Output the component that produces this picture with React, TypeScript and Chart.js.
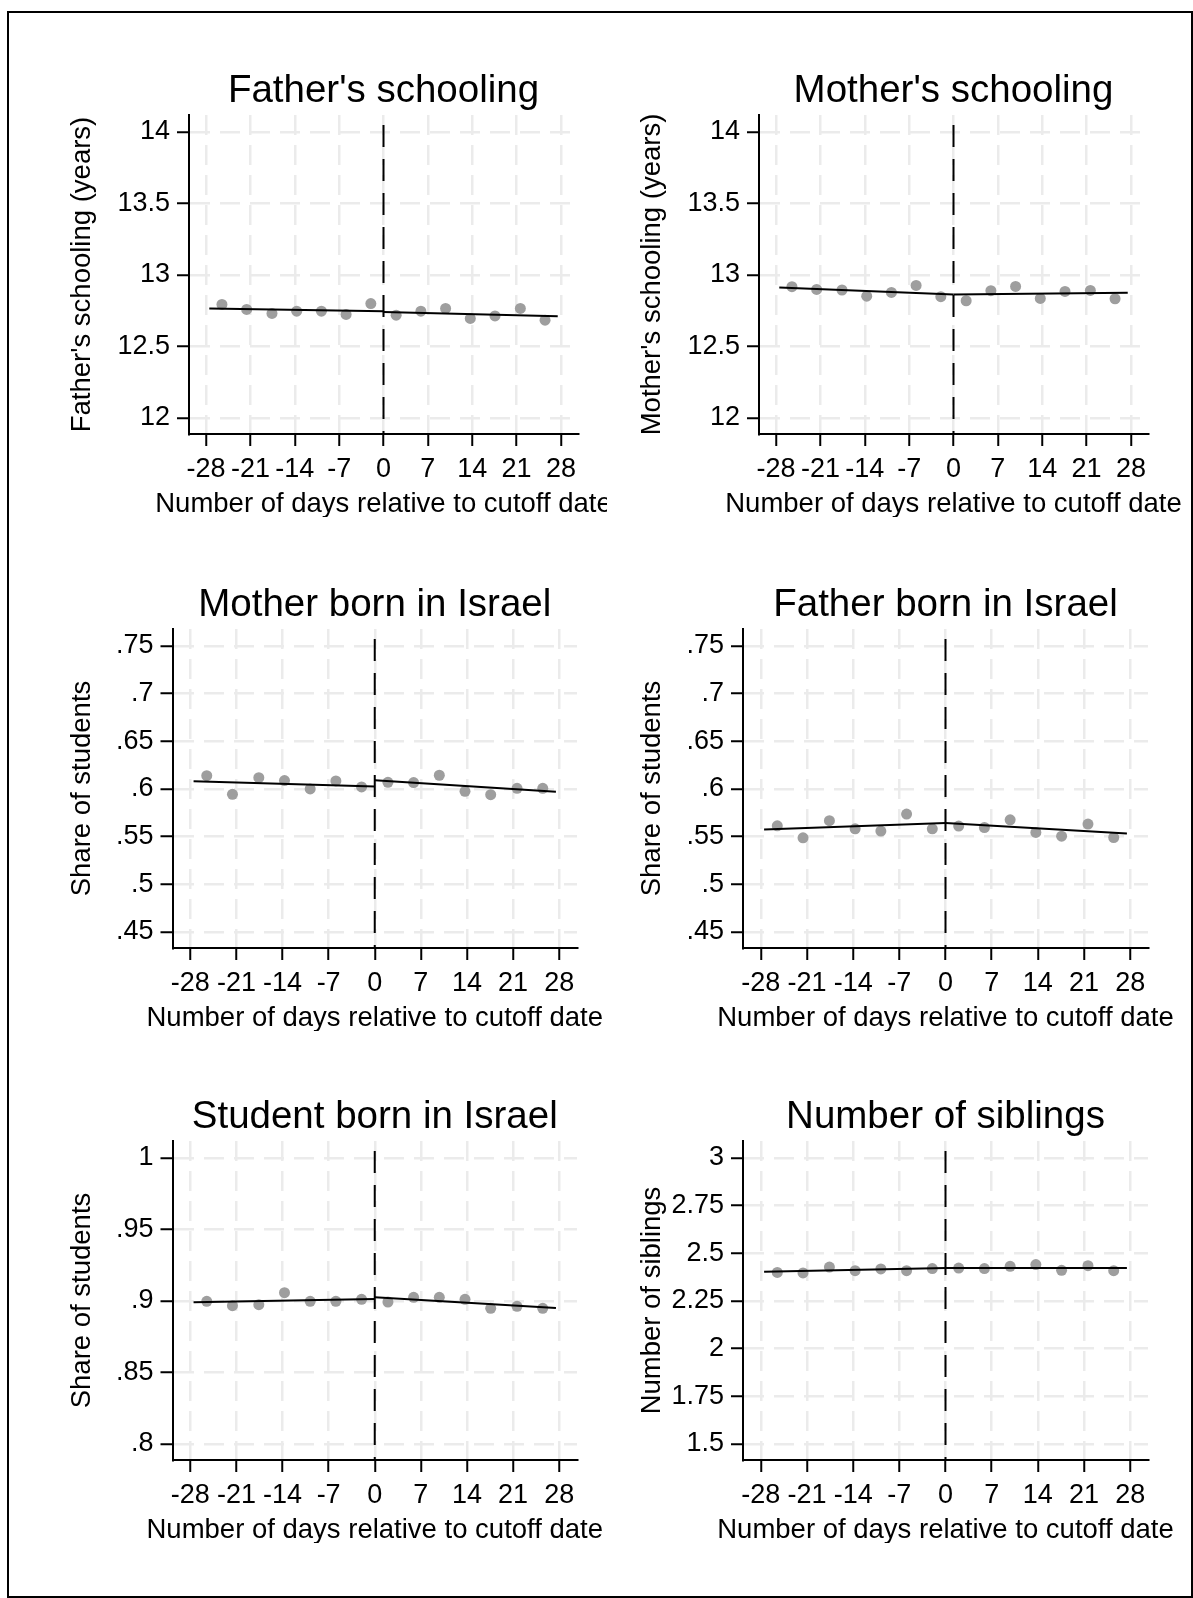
import React, { useEffect, useRef } from "react";
import { Chart, registerables } from "chart.js";

Chart.register(...registerables);

const FONT = '"Liberation Sans", Arial, Helvetica, sans-serif';

// ---------- shared x-axis data ----------
const days = [-25.5, -21.6, -17.6, -13.7, -9.8, -5.9, -2, 2, 5.9, 9.8, 13.7, 17.6, 21.6, 25.5];
const fitLeftDays = [-27.5, 0];
const fitRightDays = [0, 27.5];
const xTickValues = [-28, -21, -14, -7, 0, 7, 14, 21, 28];
const xTickLabels = ["-28", "-21", "-14", "-7", "0", "7", "14", "21", "28"];
const cutoffDay = 0;
const xAxisTitle = "Number of days relative to cutoff date";

// ---------- series ----------
const fatherSchooling = [12.794, 12.759, 12.731, 12.747, 12.747, 12.724, 12.8, 12.719, 12.747, 12.766, 12.696, 12.714, 12.766, 12.684];
const fatherSchoolingFitLeft = [12.766, 12.747];
const fatherSchoolingFitRight = [12.742, 12.712];

const motherSchooling = [12.918, 12.899, 12.895, 12.852, 12.878, 12.927, 12.848, 12.82, 12.89, 12.92, 12.836, 12.885, 12.892, 12.834];
const motherSchoolingFitLeft = [12.913, 12.864];
const motherSchoolingFitRight = [12.864, 12.876];

const motherBornIsrael = [0.614, 0.5944, 0.6119, 0.6088, 0.6, 0.6084, 0.6021, 0.607, 0.6067, 0.6144, 0.5975, 0.594, 0.6007, 0.6007];
const motherBornIsraelFitLeft = [0.6081, 0.6025];
const motherBornIsraelFitRight = [0.6091, 0.5972];

const fatherBornIsrael = [0.5614, 0.5488, 0.5667, 0.5582, 0.5558, 0.5737, 0.5582, 0.5611, 0.5596, 0.5677, 0.5544, 0.5505, 0.5632, 0.5491];
const fatherBornIsraelFitLeft = [0.5575, 0.5642];
const fatherBornIsraelFitRight = [0.5642, 0.5533];

const studentBornIsrael = [0.8998, 0.8967, 0.8974, 0.9058, 0.8998, 0.8998, 0.9012, 0.8993, 0.9026, 0.9026, 0.9012, 0.8949, 0.8963, 0.8949];
const studentBornIsraelFitLeft = [0.8991, 0.9014];
const studentBornIsraelFitRight = [0.9026, 0.8951];

const numberOfSiblings = [2.4, 2.397, 2.428, 2.409, 2.418, 2.409, 2.42, 2.423, 2.42, 2.432, 2.441, 2.411, 2.435, 2.409];
const numberOfSiblingsFitLeft = [2.404, 2.423];
const numberOfSiblingsFitRight = [2.423, 2.423];

// ---------- y tick values and labels ----------
const schoolingTicks = [12, 12.5, 13, 13.5, 14];
const schoolingTickLabels = ["12", "12.5", "13", "13.5", "14"];
const parentShareTicks = [0.45, 0.5, 0.55, 0.6, 0.65, 0.7, 0.75];
const parentShareTickLabels = [".45", ".5", ".55", ".6", ".65", ".7", ".75"];
const studentShareTicks = [0.8, 0.85, 0.9, 0.95, 1];
const studentShareTickLabels = [".8", ".85", ".9", ".95", "1"];
const siblingTicks = [1.5, 1.75, 2, 2.25, 2.5, 2.75, 3];
const siblingTickLabels = ["1.5", "1.75", "2", "2.25", "2.5", "2.75", "3"];

// ---------- panel definitions (layout kept separate from data) ----------
type PanelDef = {
  title: string;
  yTitle: string;
  values: number[];
  fitLeft: number[];
  fitRight: number[];
  yTicks: number[];
  yLabels: string[];
  yMin: number;
  yMax: number;
  col: number;
  row: number;
};

const panels: PanelDef[] = [
  { title: "Father's schooling", yTitle: "Father's schooling (years)", values: fatherSchooling, fitLeft: fatherSchoolingFitLeft, fitRight: fatherSchoolingFitRight, yTicks: schoolingTicks, yLabels: schoolingTickLabels, yMin: 11.888, yMax: 14.119, col: 0, row: 0 },
  { title: "Mother's schooling", yTitle: "Mother's schooling (years)", values: motherSchooling, fitLeft: motherSchoolingFitLeft, fitRight: motherSchoolingFitRight, yTicks: schoolingTicks, yLabels: schoolingTickLabels, yMin: 11.888, yMax: 14.119, col: 1, row: 0 },
  { title: "Mother born in Israel", yTitle: "Share of students", values: motherBornIsrael, fitLeft: motherBornIsraelFitLeft, fitRight: motherBornIsraelFitRight, yTicks: parentShareTicks, yLabels: parentShareTickLabels, yMin: 0.4332, yMax: 0.7678, col: 0, row: 1 },
  { title: "Father born in Israel", yTitle: "Share of students", values: fatherBornIsrael, fitLeft: fatherBornIsraelFitLeft, fitRight: fatherBornIsraelFitRight, yTicks: parentShareTicks, yLabels: parentShareTickLabels, yMin: 0.4332, yMax: 0.7678, col: 1, row: 1 },
  { title: "Student born in Israel", yTitle: "Share of students", values: studentBornIsrael, fitLeft: studentBornIsraelFitLeft, fitRight: studentBornIsraelFitRight, yTicks: studentShareTicks, yLabels: studentShareTickLabels, yMin: 0.7888, yMax: 1.0119, col: 0, row: 2 },
  { title: "Number of siblings", yTitle: "Number of siblings", values: numberOfSiblings, fitLeft: numberOfSiblingsFitLeft, fitRight: numberOfSiblingsFitRight, yTicks: siblingTicks, yLabels: siblingTickLabels, yMin: 1.4161, yMax: 3.0892, col: 1, row: 2 },
];

const X_MIN = -30.7;
const X_MAX = 30.7;

// layout geometry
const COL_LEFT = [10, 607];
const COL_WIDTH = [597, 586];
const COL_YTITLE_X = [72, 45];
const ROW_TOP = [13, 525, 1037];
const ROW_PAD_TOP = [102, 104, 104];
const ROW_HEIGHT = [504, 506, 506];
const X_AXIS_H = 83;
const Y_AXIS_W = [
  [179, 152],
  [162.5, 136],
  [162.5, 136],
];
const PAD_RIGHT = [
  [29, 45],
  [30, 45],
  [30, 45],
];

function Panel({ def }: { def: PanelDef }) {
  const ref = useRef<HTMLCanvasElement | null>(null);
  const { col, row } = def;
  const left = COL_LEFT[col];
  const width = COL_WIDTH[col];
  const top = ROW_TOP[row];
  const height = ROW_HEIGHT[row];

  useEffect(() => {
    if (!ref.current) return;
    const yAxisW = Y_AXIS_W[row][col];
    const textPlugin = {
      id: "panelText",
      afterDraw(chart: any) {
        const { ctx, chartArea: ca } = chart;
        const cx = (ca.left + ca.right) / 2;
        ctx.save();
        ctx.fillStyle = "#000";
        ctx.textAlign = "center";
        ctx.textBaseline = "middle";
        ctx.font = `38.5px ${FONT}`;
        ctx.fillText(def.title, cx, ca.top - 24);
        ctx.font = `27.5px ${FONT}`;
        ctx.fillText(xAxisTitle, cx, ca.bottom + 70.5);
        ctx.translate(COL_YTITLE_X[col], (ca.top + ca.bottom) / 2);
        ctx.rotate(-Math.PI / 2);
        ctx.fillText(def.yTitle, 0, 0);
        ctx.restore();
      },
    };
    const cutoffPlugin = {
      id: "cutoffLine",
      afterDatasetsDraw(chart: any) {
        const { ctx, chartArea: ca, scales } = chart;
        const x = scales.x.getPixelForValue(cutoffDay);
        ctx.save();
        ctx.strokeStyle = "#000";
        ctx.lineWidth = 2;
        ctx.setLineDash([22, 12]);
        ctx.lineDashOffset = 24;
        ctx.beginPath();
        ctx.moveTo(x, ca.top);
        ctx.lineTo(x, ca.bottom);
        ctx.stroke();
        ctx.restore();
      },
    };

    const gridOpts = {
      color: "#ebebeb",
      lineWidth: 2.5,
      drawTicks: true,
      tickLength: 12,
      tickColor: "#000",
      tickWidth: 2,
      tickBorderDash: [],
    };

    const chart = new Chart(ref.current, {
      type: "scatter",
      data: {
        datasets: [
          {
            type: "line",
            data: fitLeftDays.map((d, i) => ({ x: d, y: def.fitLeft[i] })),
            borderColor: "#000",
            borderWidth: 2,
            pointRadius: 0,
            fill: false,
            tension: 0,
            order: 1,
          } as any,
          {
            type: "line",
            data: fitRightDays.map((d, i) => ({ x: d, y: def.fitRight[i] })),
            borderColor: "#000",
            borderWidth: 2,
            pointRadius: 0,
            fill: false,
            tension: 0,
            order: 1,
          } as any,
          {
            type: "scatter",
            data: days.map((d, i) => ({ x: d, y: def.values[i] })),
            pointRadius: 5.5,
            pointHoverRadius: 5.5,
            backgroundColor: "#9e9e9e",
            borderWidth: 0,
            order: 2,
          } as any,
        ],
      },
      options: {
        animation: false,
        responsive: false,
        maintainAspectRatio: false,
        devicePixelRatio: 1,
        events: [],
        layout: {
          autoPadding: false,
          padding: { left: 0, top: ROW_PAD_TOP[row], right: PAD_RIGHT[row][col], bottom: 0 },
        },
        plugins: {
          legend: { display: false },
          title: { display: false },
          tooltip: { enabled: false },
        },
        scales: {
          x: {
            type: "linear",
            position: "bottom",
            min: X_MIN,
            max: X_MAX,
            afterBuildTicks: (s: any) => {
              s.ticks = xTickValues.map((v) => ({ value: v }));
            },
            afterFit: (s: any) => {
              s.height = X_AXIS_H;
            },
            ticks: {
              autoSkip: false,
              maxRotation: 0,
              minRotation: 0,
              padding: 7,
              color: "#000",
              font: { family: FONT, size: 27 },
              callback: (_v: any, i: number) => xTickLabels[i],
            },
            grid: gridOpts,
            border: { display: true, color: "#000", width: 2, dash: [20, 10] },
            title: { display: false },
          },
          y: {
            type: "linear",
            position: "left",
            min: def.yMin,
            max: def.yMax,
            afterBuildTicks: (s: any) => {
              s.ticks = def.yTicks.map((v) => ({ value: v }));
            },
            afterFit: (s: any) => {
              s.width = yAxisW;
            },
            ticks: {
              autoSkip: false,
              padding: 7,
              color: "#000",
              font: { family: FONT, size: 27 },
              callback: (_v: any, i: number) => def.yLabels[i],
            },
            grid: gridOpts,
            border: { display: true, color: "#000", width: 2, dash: [20, 10] },
            title: { display: false },
          },
        },
      } as any,
      plugins: [textPlugin, cutoffPlugin],
    });
    return () => chart.destroy();
  }, [def]);

  return (
    <canvas
      ref={ref}
      width={width}
      height={height}
      style={{ position: "absolute", left, top, width, height, display: "block" }}
    />
  );
}

export default function App() {
  return (
    <div
      style={{
        position: "absolute",
        left: 0,
        top: 0,
        width: 1193,
        height: 1598,
        overflow: "hidden",
        background: "#fff",
      }}
    >
      {panels.map((p, i) => (
        <Panel key={i} def={p} />
      ))}
      <div
        style={{
          position: "absolute",
          left: 7,
          top: 11,
          width: 1186,
          height: 1587,
          boxSizing: "border-box",
          border: "2px solid #000",
          pointerEvents: "none",
        }}
      />
    </div>
  );
}
